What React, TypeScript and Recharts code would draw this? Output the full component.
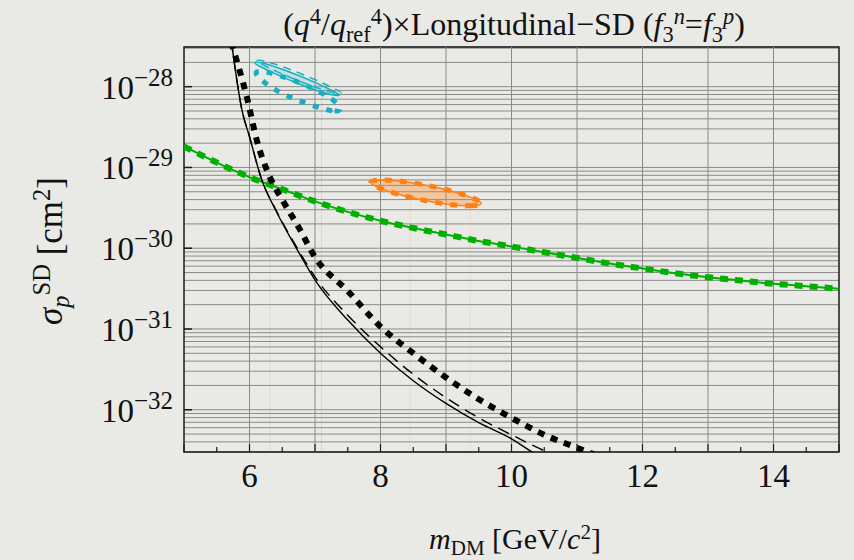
import React from "react";
import {
  ComposedChart,
  Line,
  Scatter,
  XAxis,
  YAxis,
  CartesianGrid,
  ReferenceLine,
  ReferenceArea,
} from "recharts";

// m_DM axis [GeV/c^2]
const xTicks = [5, 5.5, 6, 6.5, 7, 7.5, 8, 8.5, 9, 9.5, 10, 10.5, 11, 11.5, 12, 12.5, 13, 13.5, 14, 14.5, 15];
const xLabelTicks = [6, 8, 10, 12, 14];
const xGridLines = [6, 7, 8, 9, 10, 11, 12, 13, 14];

// sigma_p^SD axis [cm^2], log scale
const yDomain = [3.0e-33, 3.1e-28];
const yExponents = [-33, -32, -31, -30, -29, -28];
const yMantissas = [1, 2, 3, 4, 5, 6, 7, 8, 9];

// exclusion limits (black)
const limitDotted = [
  { x: 5.72, y: 3.55e-28 }, { x: 5.85, y: 1.58e-28 }, { x: 5.96, y: 7.41e-29 },
  { x: 6.11, y: 2.19e-29 }, { x: 6.3, y: 7.94e-30 }, { x: 6.5, y: 3.98e-30 },
  { x: 6.75, y: 1.82e-30 }, { x: 7.0, y: 7.76e-31 }, { x: 7.5, y: 2.95e-31 },
  { x: 8.0, y: 1.07e-31 }, { x: 8.5, y: 5.01e-32 }, { x: 9.0, y: 2.51e-32 },
  { x: 9.5, y: 1.35e-32 }, { x: 10.0, y: 7.94e-33 }, { x: 10.5, y: 4.9e-33 },
  { x: 11.0, y: 3.39e-33 }, { x: 11.5, y: 2.34e-33 },
];
const limitSolid = [
  { x: 5.72, y: 3.8e-28 }, { x: 5.885, y: 5.13e-29 }, { x: 6.0, y: 2.4e-29 },
  { x: 6.19, y: 6.92e-30 }, { x: 6.4, y: 2.95e-30 }, { x: 6.73, y: 9.55e-31 },
  { x: 7.03, y: 3.72e-31 }, { x: 7.5, y: 1.29e-31 }, { x: 8.0, y: 5.01e-32 },
  { x: 8.5, y: 2.29e-32 }, { x: 9.0, y: 1.2e-32 }, { x: 9.5, y: 6.92e-33 },
  { x: 10.0, y: 4.37e-33 }, { x: 10.33, y: 2.95e-33 }, { x: 10.6, y: 2.24e-33 },
];
const limitDashed = [
  { x: 5.72, y: 3.8e-28 }, { x: 5.885, y: 5.13e-29 }, { x: 6.0, y: 2.4e-29 },
  { x: 6.19, y: 6.92e-30 }, { x: 6.4, y: 3.02e-30 }, { x: 6.73, y: 1.0e-30 },
  { x: 7.03, y: 4.07e-31 }, { x: 7.5, y: 1.48e-31 }, { x: 8.0, y: 6.03e-32 },
  { x: 8.5, y: 2.75e-32 }, { x: 9.0, y: 1.41e-32 }, { x: 9.5, y: 7.94e-33 },
  { x: 10.0, y: 4.9e-33 }, { x: 10.4, y: 3.39e-33 }, { x: 10.7, y: 2.63e-33 },
];

// green curve
const greenCurve = [
  { x: 5.0, y: 1.82e-29 }, { x: 5.5, y: 1.15e-29 }, { x: 6.0, y: 7.59e-30 },
  { x: 6.5, y: 5.37e-30 }, { x: 7.0, y: 3.8e-30 }, { x: 7.5, y: 2.82e-30 },
  { x: 8.0, y: 2.19e-30 }, { x: 8.5, y: 1.78e-30 }, { x: 9.0, y: 1.48e-30 },
  { x: 9.5, y: 1.23e-30 }, { x: 10.0, y: 1.05e-30 }, { x: 10.5, y: 8.91e-31 },
  { x: 11.0, y: 7.59e-31 }, { x: 11.5, y: 6.46e-31 }, { x: 12.0, y: 5.62e-31 },
  { x: 12.5, y: 4.9e-31 }, { x: 13.0, y: 4.37e-31 }, { x: 13.5, y: 3.98e-31 },
  { x: 14.0, y: 3.63e-31 }, { x: 14.5, y: 3.39e-31 }, { x: 15.0, y: 3.16e-31 },
];

// cyan contours
const cyanSolid = [
  { x: 7.41, y: 7.69e-29 }, { x: 7.279, y: 7.76e-29 }, { x: 7.032, y: 8.91e-29 },
  { x: 6.702, y: 1.12e-28 }, { x: 6.379, y: 1.45e-28 }, { x: 6.15, y: 1.79e-28 },
  { x: 6.04, y: 2.03e-28 }, { x: 6.171, y: 2.0e-28 }, { x: 6.418, y: 1.74e-28 },
  { x: 6.748, y: 1.38e-28 }, { x: 7.072, y: 1.07e-28 }, { x: 7.301, y: 8.65e-29 },
];
const cyanDashed = [
  { x: 7.44, y: 8.15e-29 }, { x: 7.31, y: 8.23e-29 }, { x: 7.06, y: 9.44e-29 },
  { x: 6.73, y: 1.19e-28 }, { x: 6.41, y: 1.54e-28 }, { x: 6.18, y: 1.9e-28 },
  { x: 6.07, y: 2.15e-28 }, { x: 6.2, y: 2.12e-28 }, { x: 6.45, y: 1.84e-28 },
  { x: 6.78, y: 1.46e-28 }, { x: 7.1, y: 1.13e-28 }, { x: 7.33, y: 9.17e-29 },
];
const cyanDotted = [
  { x: 7.42, y: 5.0e-29 }, { x: 7.279, y: 4.93e-29 }, { x: 7.032, y: 5.57e-29 },
  { x: 6.707, y: 6.92e-29 }, { x: 6.389, y: 9.01e-29 }, { x: 6.168, y: 1.22e-28 },
  { x: 6.06, y: 1.54e-28 }, { x: 6.202, y: 1.57e-28 }, { x: 6.449, y: 1.39e-28 },
  { x: 6.776, y: 1.12e-28 }, { x: 7.092, y: 8.5e-29 }, { x: 7.313, y: 6.7e-29 },
];

// orange contour
const orangeContour = [
  { x: 9.59, y: 3.53e-30 }, { x: 9.423, y: 3.3e-30 }, { x: 9.102, y: 3.4e-30 },
  { x: 8.672, y: 3.87e-30 }, { x: 8.247, y: 4.66e-30 }, { x: 7.942, y: 5.67e-30 },
  { x: 7.8, y: 6.62e-30 }, { x: 7.966, y: 7.08e-30 }, { x: 8.287, y: 6.87e-30 },
  { x: 8.718, y: 6.04e-30 }, { x: 9.142, y: 5.01e-30 }, { x: 9.447, y: 4.12e-30 },
];

// faint drop lines under the contours
const cyanDrops = [
  { x: 6.31, top: 1.05e-28 },
  { x: 7.1, top: 8.0e-29 },
];
const orangeDrops = [
  { x: 8.45, top: 4.4e-30 },
  { x: 9.37, top: 3.4e-30 },
];

const yTicks = yExponents
  .flatMap((e) => yMantissas.map((m) => m * Math.pow(10, e)))
  .filter((v) => v >= yDomain[0] && v <= yDomain[1]);

const FONT = '"Liberation Serif", "Times New Roman", serif';
const GRID = "#8a8a8a";
const CYAN = "#17b0c0";
const ORANGE = "#ff8010";
const GREEN = "#00b000";

const sup: React.CSSProperties = { fontSize: "0.7em", position: "relative", top: "-0.48em", lineHeight: 0 };
const sub: React.CSSProperties = { fontSize: "0.7em", position: "relative", top: "0.3em", lineHeight: 0 };

function YTick(props: any) {
  const { x, y, payload } = props;
  const lg = Math.log10(payload.value);
  const exp = Math.round(lg);
  if (Math.abs(lg - exp) > 1e-6) return <g />;
  return (
    <g>
      <line x1={x} x2={x + 8} y1={y} y2={y} stroke="#1a1a1a" strokeWidth={1.5} />
      <text x={x - 11} y={y + 12} textAnchor="end" fontFamily={FONT} fill="#111">
        <tspan fontSize={33}>10</tspan>
        <tspan fontSize={25} dy={-13}>{"\u2212" + Math.abs(exp)}</tspan>
      </text>
    </g>
  );
}

function XTick(props: any) {
  const { x, y, payload } = props;
  const v = payload.value;
  const major = Number.isInteger(v);
  return (
    <g>
      <line x1={x} x2={x} y1={y} y2={y - (major ? 8 : 5)} stroke="#1a1a1a" strokeWidth={1.2} />
      {xLabelTicks.includes(v) && (
        <text x={x} y={y + 35} textAnchor="middle" fontFamily={FONT} fontSize={33} fill="#111">
          {v}
        </text>
      )}
    </g>
  );
}

const noPoint = () => <g />;

export default function App() {
  return (
    <div
      style={{
        position: "absolute",
        left: 0,
        top: 0,
        width: 854,
        height: 560,
        background: "#e9e9e5",
        fontFamily: FONT,
        color: "#111",
      }}
    >
      <ComposedChart width={854} height={560} margin={{ top: 47, right: 15, bottom: 58, left: 0 }}>
        <CartesianGrid vertical={false} stroke={GRID} strokeWidth={1} />
        {xGridLines.map((v) => (
          <ReferenceLine key={v} x={v} stroke={GRID} strokeWidth={1} />
        ))}
        <XAxis
          type="number"
          dataKey="x"
          domain={[5, 15]}
          ticks={xTicks}
          interval={0}
          allowDataOverflow
          height={50}
          axisLine={false}
          tickLine={false}
          tickSize={0}
          tickMargin={0}
          tick={<XTick />}
        />
        <YAxis
          type="number"
          dataKey="y"
          scale="log"
          domain={yDomain}
          ticks={yTicks}
          interval={0}
          allowDataOverflow
          width={184}
          axisLine={false}
          tickLine={false}
          tickSize={0}
          tickMargin={0}
          tick={<YTick />}
        />
        {cyanDrops.map((d) => (
          <ReferenceLine
            key={"c" + d.x}
            segment={[{ x: d.x, y: yDomain[0] }, { x: d.x, y: d.top }]}
            stroke={CYAN}
            strokeOpacity={0.15}
          />
        ))}
        {orangeDrops.map((d) => (
          <ReferenceLine
            key={"o" + d.x}
            segment={[{ x: d.x, y: yDomain[0] }, { x: d.x, y: d.top }]}
            stroke={ORANGE}
            strokeOpacity={0.13}
          />
        ))}

        <Line data={greenCurve} dataKey="y" type="monotone" stroke={GREEN} strokeWidth={2} dot={false} activeDot={false} isAnimationActive={false} />
        <Line data={greenCurve} dataKey="y" type="monotone" stroke={GREEN} strokeWidth={6} strokeDasharray="8 7" dot={false} activeDot={false} isAnimationActive={false} />

        <Scatter
          data={orangeContour}
          shape={noPoint}
          line={{ stroke: ORANGE, strokeWidth: 1.5, fill: "rgba(255,128,16,0.32)" }}
          lineJointType="basisClosed"
          isAnimationActive={false}
        />
        <Scatter
          data={orangeContour}
          shape={noPoint}
          line={{ stroke: ORANGE, strokeWidth: 5, strokeDasharray: "7 8", fill: "none" }}
          lineJointType="basisClosed"
          isAnimationActive={false}
        />

        <Scatter
          data={cyanSolid}
          shape={noPoint}
          line={{ stroke: CYAN, strokeWidth: 1.5, fill: "rgba(23,176,192,0.15)" }}
          lineJointType="basisClosed"
          isAnimationActive={false}
        />
        <Scatter
          data={cyanDashed}
          shape={noPoint}
          line={{ stroke: CYAN, strokeWidth: 1.5, strokeDasharray: "8 6", fill: "none" }}
          lineJointType="basisClosed"
          isAnimationActive={false}
        />
        <Scatter
          data={cyanDotted}
          shape={noPoint}
          line={{ stroke: CYAN, strokeWidth: 5, strokeDasharray: "6 8", fill: "none" }}
          lineJointType="basisClosed"
          isAnimationActive={false}
        />

        <Line data={limitSolid} dataKey="y" type="monotone" stroke="#000" strokeWidth={1.4} dot={false} activeDot={false} isAnimationActive={false} />
        <Line data={limitDashed} dataKey="y" type="monotone" stroke="#000" strokeWidth={1.4} strokeDasharray="12 7" dot={false} activeDot={false} isAnimationActive={false} />
        <Line data={limitDotted} dataKey="y" type="monotone" stroke="#000" strokeWidth={6} strokeDasharray="7 7" dot={false} activeDot={false} isAnimationActive={false} />

        <ReferenceArea x1={5} x2={15} y1={yDomain[0]} y2={yDomain[1]} fill="none" stroke="#1a1a1a" strokeWidth={1.5} />
      </ComposedChart>

      <div style={{ position: "absolute", top: 6, left: 264, width: 500, textAlign: "center", fontSize: 32, whiteSpace: "nowrap" }}>
        (<i>q</i><span style={sup}>4</span>/<i>q</i><span style={sub}>ref</span><span style={sup}>4</span>)×Longitudinal−SD (<i>f</i>
        <span style={sub}>3</span><span style={sup}><i>n</i></span>=<i>f</i><span style={sub}>3</span><span style={sup}><i>p</i></span>)
      </div>

      <div style={{ position: "absolute", top: 522, left: 315, width: 400, textAlign: "center", fontSize: 30, whiteSpace: "nowrap" }}>
        <i>m</i><span style={sub}>DM</span> [GeV/<i>c</i><span style={sup}>2</span>]
      </div>

      <div
        style={{
          position: "absolute",
          left: 50,
          top: 251,
          transform: "translate(-50%, -50%) rotate(-90deg)",
          fontSize: 35,
          whiteSpace: "nowrap",
          lineHeight: 1,
        }}
      >
        <i>σ</i><span style={sub}><i>p</i></span><span style={sup}>SD</span> [cm<span style={sup}>2</span>]
      </div>
    </div>
  );
}
